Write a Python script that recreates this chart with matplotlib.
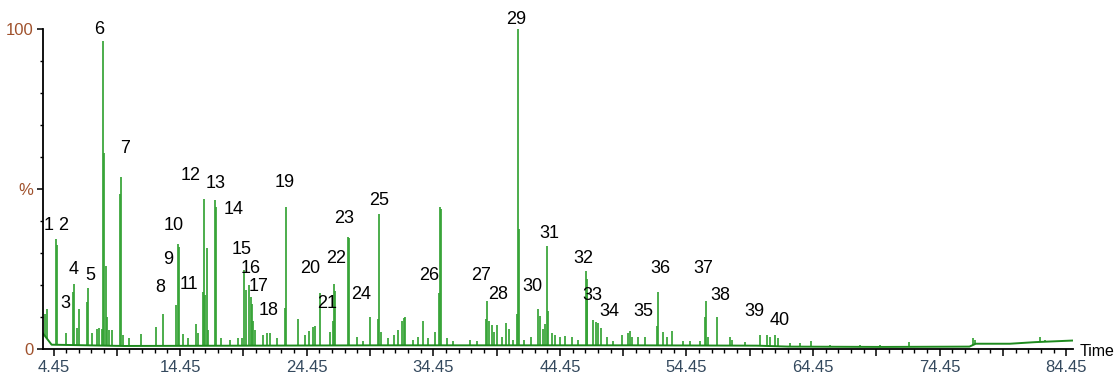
import numpy as np
import matplotlib
matplotlib.use("Agg")
import matplotlib.pyplot as plt
from matplotlib.ticker import FixedLocator, MultipleLocator

plt.rcParams['font.family'] = ['Liberation Sans', 'DejaVu Sans']

# retention time (min) and relative abundance (%) of the spikes
peak_t = [3.78, 3.94, 4.65, 4.75, 5.41, 6.01, 6.09, 6.28, 6.46, 7.07, 7.20, 7.47,
          7.86, 8.04, 8.26, 8.34, 8.44, 8.57, 8.68, 8.86, 9.05, 9.68, 9.76, 9.96,
          10.44, 11.36, 12.55, 13.12, 14.10, 14.31, 14.40, 14.70, 15.07, 15.68,
          15.86, 16.24, 16.34, 16.42, 16.55, 16.65, 17.21, 17.29, 17.68, 18.39,
          19.05, 19.32, 19.52, 19.63, 19.92, 20.03, 20.15, 20.23, 20.37, 21.02,
          21.29, 21.55, 22.08, 22.74, 22.81, 23.74, 24.32, 24.66, 24.92, 25.11,
          25.50, 26.29, 26.50, 26.63, 26.71, 27.74, 27.81, 28.40, 28.90, 29.45,
          30.06, 30.14, 30.32, 30.87, 31.35, 31.66, 31.95, 32.16, 32.24, 32.87,
          33.27, 33.66, 34.03, 34.58, 34.90, 34.98, 35.06, 35.51, 36.01, 37.35,
          37.90, 38.61, 38.72, 38.87, 39.06, 39.27, 39.46, 39.85, 40.19, 40.45,
          40.75, 41.04, 41.16, 41.23, 41.61, 42.17, 42.74, 42.84, 43.14, 43.27,
          43.40, 43.48, 43.80, 44.06, 44.46, 44.85, 45.38, 45.88, 46.51, 46.57,
          46.63, 47.09, 47.28, 47.44, 47.70, 48.15, 48.64, 49.33, 49.81, 49.99,
          50.15, 50.64, 51.17, 52.10, 52.22, 52.57, 52.93, 53.28, 54.17, 54.73,
          55.52, 55.91, 55.99, 56.15, 56.88, 57.89, 58.04, 59.07, 60.25, 60.78,
          61.05, 61.44, 61.68, 62.63, 63.42, 64.29, 65.79, 68.16, 69.74, 72.03,
          74.47, 77.06, 77.24, 82.37, 82.77]
peak_v = [11.0, 12.7, 34.5, 32.6, 5.0, 18.0, 20.6, 6.6, 12.8, 14.8, 19.2, 5.0,
          6.4, 6.8, 6.4, 96.5, 61.3, 26.0, 10.0, 6.0, 6.0, 48.6, 54.0, 4.4,
          3.5, 4.9, 7.0, 11.2, 13.8, 33.0, 32.0, 4.7, 3.5, 8.0,
          5.0, 18.0, 47.0, 17.0, 31.7, 6.0, 46.6, 44.5, 3.5, 3.0,
          3.5, 3.5, 24.7, 18.7, 20.3, 16.4, 14.3, 9.0, 6.0, 4.5,
          5.0, 5.0, 3.5, 13.0, 44.5, 9.6, 4.5, 5.7, 7.0, 7.3,
          17.6, 5.5, 9.0, 20.5, 18.4, 35.0, 34.8, 3.8, 2.8, 10.3,
          9.6, 42.3, 5.4, 3.5, 4.5, 6.0, 9.0, 9.7, 10.0, 3.0,
          4.0, 8.9, 3.5, 5.4, 17.6, 44.4, 44.0, 3.5, 2.5, 3.0,
          2.5, 9.6, 15.3, 9.0, 7.8, 5.4, 7.8, 4.0, 8.3, 6.5,
          3.0, 11.2, 100.0, 37.5, 3.0, 3.8, 12.7, 10.5, 6.5, 8.0,
          32.4, 12.0, 5.2, 4.5, 3.8, 4.2, 4.0, 3.0, 24.5, 22.0,
          18.0, 9.2, 8.6, 8.3, 6.8, 3.8, 2.5, 4.6, 5.2, 5.7,
          4.0, 3.8, 3.8, 7.2, 18.0, 5.4, 4.0, 5.9, 2.5, 2.5,
          2.8, 10.0, 15.2, 4.0, 10.0, 3.8, 3.0, 2.3, 4.6, 4.6,
          4.0, 4.6, 3.5, 2.0, 2.0, 2.6, 1.5, 1.5, 1.4, 2.4,
          1.2, 3.7, 3.0, 3.8, 3.0]

# baseline level of the trace
base_t = [3.62, 4.3, 10.0, 20.0, 30.0, 40.0, 50.0, 60.0, 62.5, 70.0, 76.8, 77.3, 80.0, 82.0, 84.98]
base_v = [5.0, 1.5, 1.1, 1.2, 1.3, 1.3, 1.3, 1.2, 0.9, 0.8, 0.9, 1.8, 1.8, 2.3, 2.8]

# numbered compound labels (text centre, in data units)
label_txt = [str(i) for i in range(1, 41)]
label_t = [4.04, 5.22, 5.41, 6.01, 7.39, 8.04, 10.10, 12.86, 13.52, 13.91,
           15.18, 15.29, 17.29, 18.65, 19.32, 20.03, 20.68, 21.42, 22.74, 24.71,
           26.03, 26.74, 27.42, 28.74, 30.14, 34.13, 38.19, 39.58, 40.96, 42.27,
           43.59, 46.30, 47.01, 48.33, 51.04, 52.41, 55.78, 57.16, 59.78, 61.83]
label_v = [38.7, 38.7, 14.4, 25.1, 23.0, 100.1, 62.9, 19.4, 28.2, 38.9,
           20.2, 54.5, 51.9, 43.8, 31.1, 25.4, 19.6, 12.1, 52.1, 25.4,
           14.4, 28.5, 41.0, 17.3, 46.7, 23.0, 23.0, 17.3, 103.0, 19.6,
           36.3, 28.3, 17.0, 11.8, 11.8, 25.4, 25.4, 17.0, 11.8, 9.2]

fig = plt.figure(figsize=(11.17, 3.76), dpi=100)
ax = fig.add_axes([0.0385, 0.0705, 0.9221, 0.8511])

green = '#36a336'
foot = np.interp(peak_t, base_t, base_v)
ax.vlines(peak_t, foot, peak_v, color=green, lw=1.25)
ax.plot(base_t, base_v, color='#1e8a1e', lw=1.4)

for txt, t, v in zip(label_txt, label_t, label_v):
    ax.text(t, v, txt, ha='center', va='center', fontsize=13, color='black', clip_on=False)

ax.set_xlim(3.62, 84.98)
ax.set_ylim(0, 100)

ax.spines['top'].set_visible(False)
ax.spines['right'].set_visible(False)
ax.spines['left'].set_linewidth(1.3)
ax.spines['bottom'].set_linewidth(1.3)

ax.xaxis.set_major_locator(FixedLocator([4.45 + 5 * k for k in range(17)]))
ax.set_xticklabels([f"{4.45 + 5 * k:.2f}" if k % 2 == 0 else "" for k in range(17)])
ax.xaxis.set_minor_locator(FixedLocator([4.45 + k for k in range(81)]))
ax.tick_params(axis='x', which='major', length=5, width=1.1, pad=2.5,
               labelsize=12, labelcolor='#34495e')
ax.tick_params(axis='x', which='minor', length=3, width=1.0)

ax.set_yticks([0, 50, 100])
ax.set_yticklabels(['0', '%', '100'])
ax.yaxis.set_minor_locator(MultipleLocator(10))
ax.tick_params(axis='y', which='major', length=4, width=1.1, pad=3,
               labelsize=12, labelcolor='#a0522d')
ax.tick_params(axis='y', which='minor', length=2, width=1.0)

fig.text(1080 / 1117, 1 - 352 / 376, 'Time', ha='left', va='center', fontsize=11.5)

fig.savefig('out.png', dpi=100)
